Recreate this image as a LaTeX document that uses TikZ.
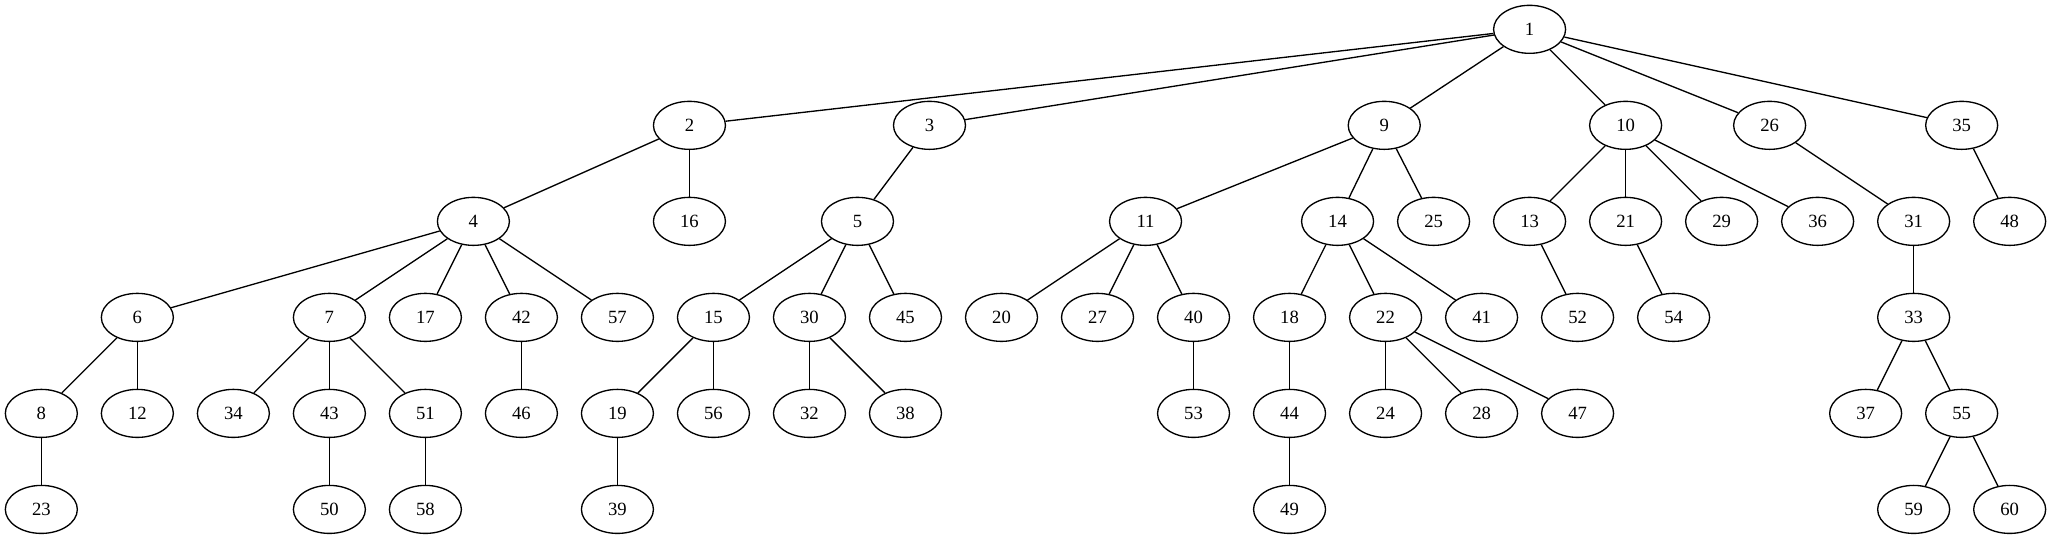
\documentclass[tikz,border=0pt]{standalone}
\usepackage{fontspec}
\setmainfont{Liberation Serif}
\usetikzlibrary{shapes.geometric}
\begin{document}
\begin{tikzpicture}[x=1pt,y=1pt,
  nd/.style={draw=black,ellipse,line width=1pt,minimum width=54pt,minimum height=36pt,inner sep=0pt,font=\fontsize{14}{16}\selectfont},
  ed/.style={draw=black,line width=1pt}]
\useasboundingbox (0,0) rectangle (1538,404);
% rank 0
\node[nd] (n1) at (1147,382) {1};
% rank 1
\node[nd] (n2) at (517,310) {2};
\node[nd] (n3) at (697,310) {3};
\node[nd] (n9) at (1038,310) {9};
\node[nd] (n10) at (1219,310) {10};
\node[nd] (n26) at (1327,310) {26};
\node[nd] (n35) at (1471,310) {35};
% rank 2
\node[nd] (n4) at (355,238) {4};
\node[nd] (n16) at (517,238) {16};
\node[nd] (n5) at (643,238) {5};
\node[nd] (n11) at (859,238) {11};
\node[nd] (n14) at (1003,238) {14};
\node[nd] (n25) at (1075,238) {25};
\node[nd] (n13) at (1147,238) {13};
\node[nd] (n21) at (1219,238) {21};
\node[nd] (n29) at (1291,238) {29};
\node[nd] (n36) at (1363,238) {36};
\node[nd] (n31) at (1435,238) {31};
\node[nd] (n48) at (1507,238) {48};
% rank 3
\node[nd] (n6) at (103,166) {6};
\node[nd] (n7) at (247,166) {7};
\node[nd] (n17) at (319,166) {17};
\node[nd] (n42) at (391,166) {42};
\node[nd] (n57) at (463,166) {57};
\node[nd] (n15) at (535,166) {15};
\node[nd] (n30) at (607,166) {30};
\node[nd] (n45) at (679,166) {45};
\node[nd] (n20) at (751,166) {20};
\node[nd] (n27) at (823,166) {27};
\node[nd] (n40) at (895,166) {40};
\node[nd] (n18) at (967,166) {18};
\node[nd] (n22) at (1039,166) {22};
\node[nd] (n41) at (1111,166) {41};
\node[nd] (n52) at (1183,166) {52};
\node[nd] (n54) at (1255,166) {54};
\node[nd] (n33) at (1435,166) {33};
% rank 4
\node[nd] (n8) at (31,94) {8};
\node[nd] (n12) at (103,94) {12};
\node[nd] (n34) at (175,94) {34};
\node[nd] (n43) at (247,94) {43};
\node[nd] (n51) at (319,94) {51};
\node[nd] (n46) at (391,94) {46};
\node[nd] (n19) at (463,94) {19};
\node[nd] (n56) at (535,94) {56};
\node[nd] (n32) at (607,94) {32};
\node[nd] (n38) at (679,94) {38};
\node[nd] (n53) at (895,94) {53};
\node[nd] (n44) at (967,94) {44};
\node[nd] (n24) at (1039,94) {24};
\node[nd] (n28) at (1111,94) {28};
\node[nd] (n47) at (1183,94) {47};
\node[nd] (n37) at (1399,94) {37};
\node[nd] (n55) at (1471,94) {55};
% rank 5
\node[nd] (n23) at (31,22) {23};
\node[nd] (n50) at (247,22) {50};
\node[nd] (n58) at (319,22) {58};
\node[nd] (n39) at (463,22) {39};
\node[nd] (n49) at (967,22) {49};
\node[nd] (n59) at (1435,22) {59};
\node[nd] (n60) at (1507,22) {60};
% edges
\foreach \a/\b in {1/2,1/3,1/9,1/10,1/26,1/35,
  2/4,2/16,3/5,9/11,9/14,9/25,10/13,10/21,10/29,10/36,26/31,35/48,
  4/6,4/7,4/17,4/42,4/57,5/15,5/30,5/45,11/20,11/27,11/40,14/18,14/22,14/41,13/52,21/54,31/33,
  6/8,6/12,7/34,7/43,7/51,42/46,15/19,15/56,30/32,30/38,40/53,18/44,22/24,22/28,22/47,33/37,33/55,
  8/23,43/50,51/58,19/39,44/49,55/59,55/60}
  \draw[ed] (n\a) -- (n\b);
\end{tikzpicture}
\end{document}
